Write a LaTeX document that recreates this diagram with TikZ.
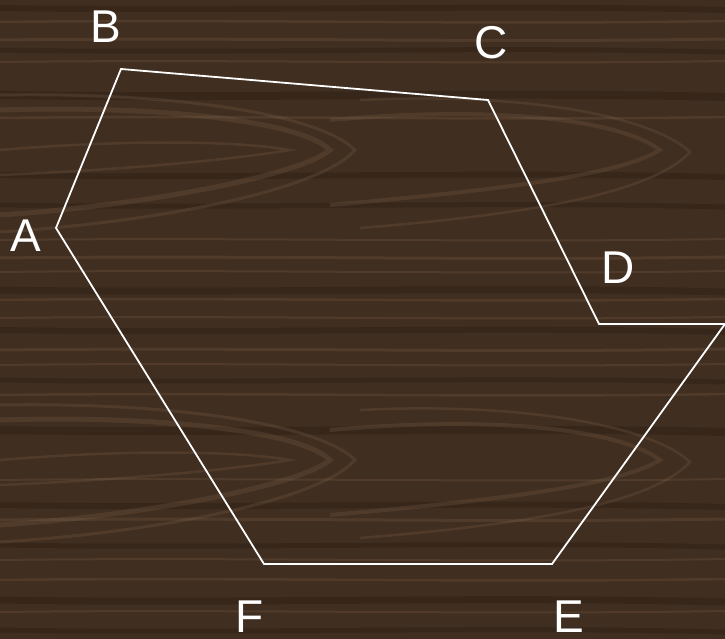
\documentclass[tikz,border=0pt]{standalone}
\usepackage{fontspec}
\setmainfont{Liberation Sans}
\begin{document}
\begin{tikzpicture}[x=1pt,y=-1pt,
  lbl/.style={text=white,font=\fontsize{46}{46}\selectfont,inner sep=0pt},
  edge/.style={draw=white,line width=1.8pt,line join=miter},
  grain/.style={draw=woodlight,line width=#1,opacity=0.28},
  grain/.default=2pt,
  dgrain/.style={draw=wooddark,line width=#1,opacity=0.45},
  dgrain/.default=3pt]
\definecolor{woodbase}{HTML}{402E20}
\definecolor{woodlight}{HTML}{7A6048}
\definecolor{wooddark}{HTML}{2E2016}
\useasboundingbox (0,0) rectangle (725,639);
\fill[woodbase] (0,0) rectangle (725,639);
\begin{scope}
\clip (0,0) rectangle (725,639);
% dark bands
\foreach \yy/\w in {8/6,50/5,95/8,175/6,205/5,290/7,330/6,380/5,430/8,505/6,545/5,600/7,630/5}{
  \draw[dgrain=\w] (0,\yy) .. controls (240,\yy+4) and (480,\yy-4) .. (725,\yy+2);
}
% light straight grain
\foreach \yy/\w in {22/2.5,40/3,62/2,118/2.5,240/2,258/3,272/2,300/2.5,318/2,350/3,365/2,395/2.5,480/2,520/3,560/2,580/2.5,612/2}{
  \draw[grain=\w] (0,\yy) .. controls (240,\yy-3) and (480,\yy+3) .. (725,\yy-1);
}
% V-shaped grain figures
\foreach \dy in {0,310}{
  \begin{scope}[yshift=-\dy]
  \draw[grain=5pt] (0,110) .. controls (150,105) and (300,120) .. (330,150) .. controls (300,175) and (150,205) .. (0,215);
  \draw[grain=3pt] (0,95) .. controls (180,92) and (320,115) .. (355,150) .. controls (320,190) and (160,222) .. (0,232);
  \draw[grain=4pt] (330,120) .. controls (500,105) and (620,120) .. (660,150) .. controls (620,175) and (500,190) .. (330,205);
  \draw[grain=2.5pt] (360,100) .. controls (520,92) and (650,115) .. (690,152) .. controls (650,195) and (520,215) .. (360,228);
  \draw[grain=2.5pt] (0,150) .. controls (120,140) and (230,140) .. (290,150) .. controls (230,160) and (120,170) .. (0,175);
  \end{scope}
}
\end{scope}
% polygon
\coordinate (A) at (56,228);
\coordinate (B) at (121,69);
\coordinate (C) at (488,100);
\coordinate (D) at (599,324);
\coordinate (G) at (725,324);
\coordinate (E) at (552,564);
\coordinate (F) at (264,564);
\draw[edge] (A) -- (B) -- (C) -- (D) -- (G) -- (E) -- (F) -- cycle;
% labels
\node[lbl] (lA) at (26,236) {A};
\node[lbl] (lB) at (106,27) {B};
\node[lbl] (lC) at (491,43) {C};
\node[lbl] (lD) at (618,268) {D};
\node[lbl] (lE) at (569,617) {E};
\node[lbl] (lF) at (250,617) {F};
\end{tikzpicture}
\end{document}
